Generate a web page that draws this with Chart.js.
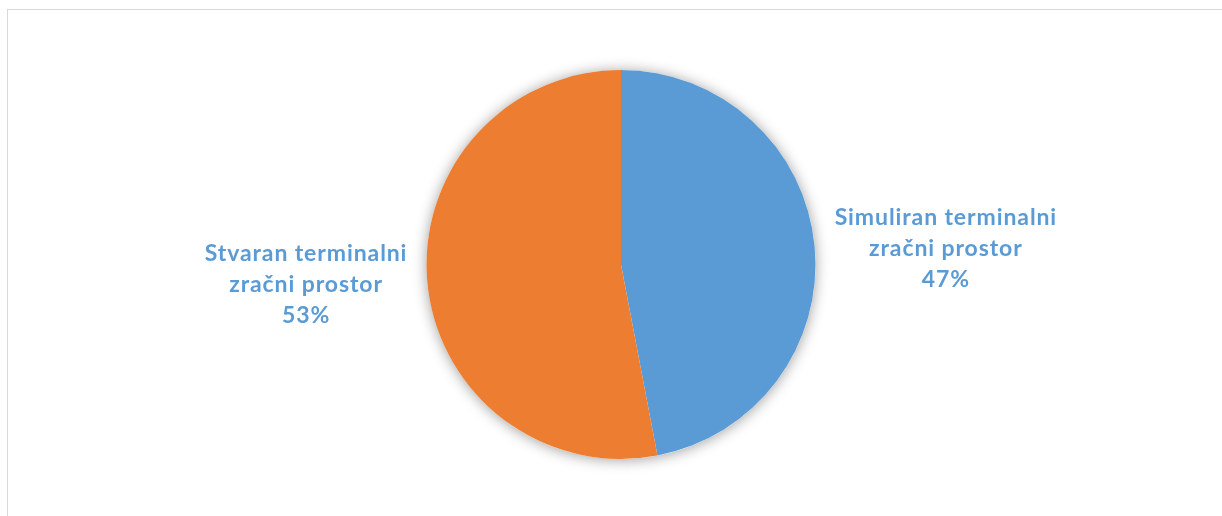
<!DOCTYPE html>
<html>
<head>
<meta charset="utf-8">
<script src="https://cdn.jsdelivr.net/npm/chart.js@4/dist/chart.umd.min.js"></script>
<style>
    html, body { margin: 0; padding: 0; background: #fff; overflow: hidden; }
    .frame {
        position: absolute; left: 7px; top: 9px; width: 1230px; height: 520px;
        border-top: 1px solid #d9d9d9; border-left: 1px solid #d9d9d9;
    }
    .wrap { position: absolute; left: 0; top: 0; width: 1222px; height: 516px; }
</style>
</head>
<body>
<div class="frame"></div>
<div class="wrap"><canvas id="pieChart"></canvas></div>
<script>
const kategorije = [
    ["Simuliran terminalni", "zračni prostor"],
    ["Stvaran terminalni", "zračni prostor"]
];
const udjeli = [47, 53];
const boje = ["#5b9bd5", "#ed7d31"];
const bojaOznake = "#5b9bd5";

// soft shadow under the whole pie
const sjena = {
    id: "sjena",
    beforeDatasetsDraw(chart) {
        const arc = chart.getDatasetMeta(0).data[0];
        if (!arc) return;
        const ctx = chart.ctx;
        ctx.save();
        ctx.shadowColor = "rgba(0,0,0,0.38)";
        ctx.shadowBlur = 14;
        ctx.shadowOffsetY = 1;
        ctx.fillStyle = "#ffffff";
        ctx.beginPath();
        ctx.arc(arc.x, arc.y, arc.outerRadius, 0, Math.PI * 2);
        ctx.fill();
        ctx.restore();
    }
};

// data labels outside the slices: category lines + percentage
const oznake = {
    id: "oznake",
    afterDatasetsDraw(chart) {
        const ctx = chart.ctx;
        const meta = chart.getDatasetMeta(0);
        const ukupno = udjeli.reduce((a, b) => a + b, 0);
        const visinaReda = 31;
        const razmak = 20;
        ctx.save();
        ctx.font = "bold 23px Lato";
        ctx.letterSpacing = "0.9px";
        ctx.fillStyle = bojaOznake;
        ctx.textBaseline = "middle";
        ctx.textAlign = "center";
        meta.data.forEach((arc, i) => {
            const sredina = (arc.startAngle + arc.endAngle) / 2;
            const ax = arc.x + Math.cos(sredina) * arc.outerRadius;
            const ay = arc.y + Math.sin(sredina) * arc.outerRadius + 2;
            const redovi = kategorije[i].concat(Math.round(udjeli[i] / ukupno * 100) + "%");
            const sirina = Math.max(...redovi.map(r => ctx.measureText(r).width));
            const desno = Math.cos(sredina) >= 0;
            const cx = desno ? ax + razmak + sirina / 2 : ax - razmak - sirina / 2;
            const y0 = ay - (redovi.length - 1) * visinaReda / 2;
            redovi.forEach((r, j) => ctx.fillText(r, cx, y0 + j * visinaReda));
        });
        ctx.restore();
    }
};

new Chart(document.getElementById("pieChart"), {
    type: "pie",
    data: {
        labels: kategorije.map(k => k.join(" ")),
        datasets: [{
            data: udjeli,
            backgroundColor: boje,
            borderWidth: 0,
            hoverOffset: 0
        }]
    },
    options: {
        responsive: true,
        maintainAspectRatio: false,
        animation: false,
        layout: { padding: { left: 20, right: 0, top: 70, bottom: 57 } },
        plugins: {
            legend: { display: false },
            tooltip: { enabled: false }
        }
    },
    plugins: [sjena, oznake]
});
</script>
</body>
</html>
